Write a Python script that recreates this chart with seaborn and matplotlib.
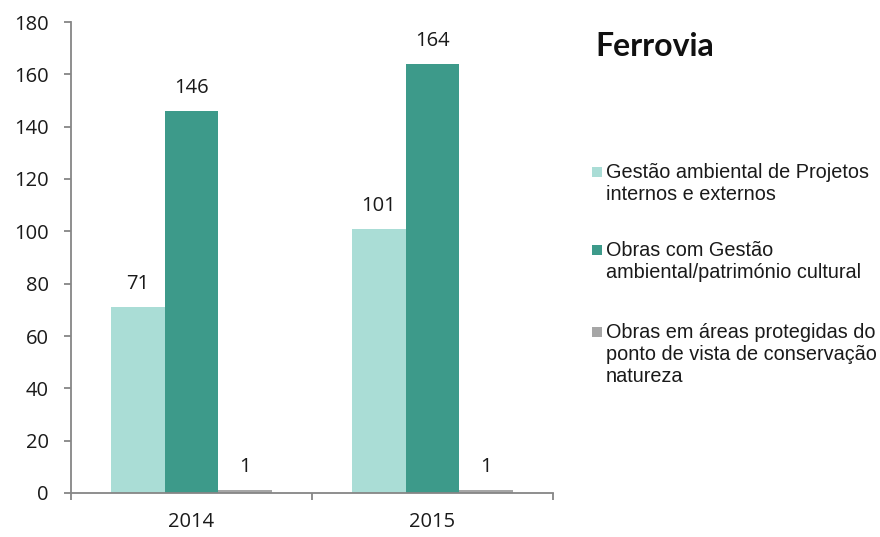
import matplotlib
matplotlib.use("Agg")
import matplotlib.pyplot as plt
import seaborn as sns
import pandas as pd
from matplotlib.patches import Rectangle

anos = ["2014", "2015"]
series = [
    "Gestão ambiental de Projetos\ninternos e externos",
    "Obras com Gestão\nambiental/património cultural",
    "Obras em áreas protegidas do\nponto de vista de conservação\nnatureza",
]
gestao_projetos = [71, 101]
obras_patrimonio = [146, 164]
obras_protegidas = [1, 1]
cores = ["#AADDD6", "#3D9A8A", "#A6A6A6"]
titulo = "Ferrovia"

valores = [gestao_projetos, obras_patrimonio, obras_protegidas]
df = pd.DataFrame(
    [(ano, serie, v[i]) for serie, v in zip(series, valores) for i, ano in enumerate(anos)],
    columns=["ano", "serie", "valor"],
)

sns.set_theme(style="white")
plt.rcParams["font.family"] = ["Open Sans", "DejaVu Sans"]

W, H = 880, 537
fig = plt.figure(figsize=(W / 100, H / 100), dpi=100)
ax = fig.add_axes([71 / W, 44 / H, (553 - 71) / W, (493 - 22) / H])

sns.barplot(
    data=df, x="ano", y="valor", hue="serie", hue_order=series, order=anos,
    palette=cores, width=0.667, gap=0, saturation=1, linewidth=0, ax=ax,
)
if ax.get_legend() is not None:
    ax.get_legend().remove()

fs = 14.5
# value labels above each bar
for cont in ax.containers:
    for bar in cont:
        h = bar.get_height()
        ax.annotate(f"{h:.0f}", (bar.get_x() + bar.get_width() / 2, h),
                    xytext=(0, 16.5), textcoords="offset points",
                    ha="center", va="center", fontsize=fs, color="#1a1a1a")

ax.set_xlim(-0.5, 1.5)
ax.set_ylim(0, 180)
ax.set_yticks(range(0, 181, 20))
ax.set_xlabel("")
ax.set_ylabel("")

spine_c = "#868686"
for s in ["top", "right"]:
    ax.spines[s].set_visible(False)
for s in ["left", "bottom"]:
    ax.spines[s].set_color(spine_c)
    ax.spines[s].set_linewidth(1.3)

ax.set_xticks([-0.5, 0.5, 1.5], minor=True)
ax.tick_params(axis="x", which="major", length=0, pad=14, labelsize=fs, labelcolor="#1a1a1a")
ax.tick_params(axis="x", which="minor", length=5, width=1.3, color=spine_c, direction="out", bottom=True)
ax.tick_params(axis="y", which="major", length=5, width=1.3, color=spine_c, direction="out",
               left=True, pad=11, labelsize=fs, labelcolor="#1a1a1a")

fig.text(595 / W, 1 - 47 / H, titulo, fontsize=23, fontweight="bold",
         family=["Lato", "DejaVu Sans"], ha="left", va="center", color="#111111")

# legend: colour square beside the first line of each multi-line label
entry_top = [172, 250, 332]
line_h = 22
for cor, serie, y0 in zip(cores, series, entry_top):
    fig.patches.append(Rectangle((592 / W, 1 - (y0 + 5) / H), 10 / W, 10 / H,
                                 transform=fig.transFigure, facecolor=cor, edgecolor="none"))
    for k, linha in enumerate(serie.split("\n")):
        fig.text(606 / W, 1 - (y0 + k * line_h) / H, linha, fontsize=14.3,
                 family=["Liberation Sans", "DejaVu Sans"], ha="left", va="center",
                 color="#1a1a1a")

fig.savefig("out.png", dpi=100)
